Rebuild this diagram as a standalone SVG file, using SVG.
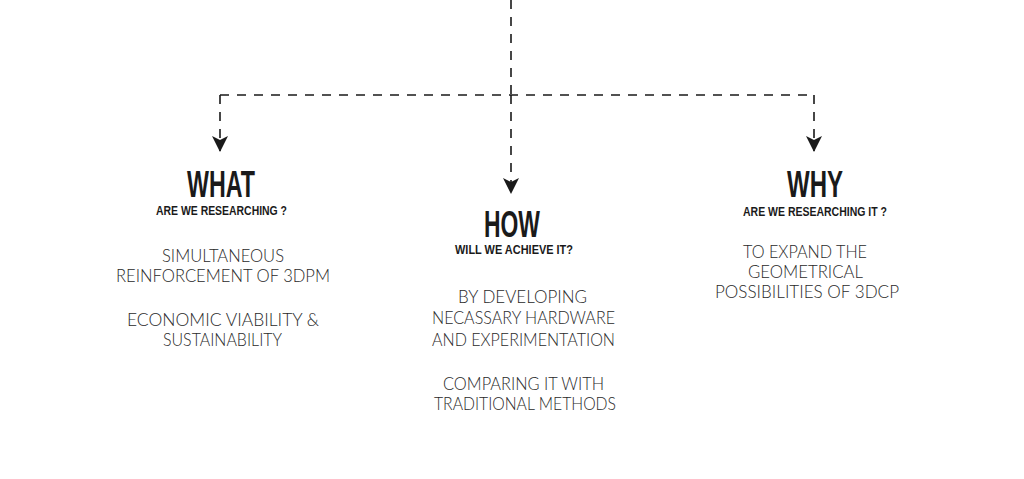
<svg xmlns="http://www.w3.org/2000/svg" width="1024" height="479" viewBox="0 0 1024 479">
<style>
.conn{fill:none;stroke:#1a1a1a;stroke-width:1.6;stroke-dasharray:9 8}
.h{font-family:"Liberation Sans",Arial,sans-serif;font-weight:bold;fill:#1a1a1a}
.t{font-size:36px}
.s{font-size:13.5px}
.b{font-family:Lato,"Liberation Sans",sans-serif;font-weight:300;font-size:18.5px;fill:#2a2a2a}
</style>
<defs>
<marker id="arr" viewBox="0 0 16 16" refX="15" refY="8" markerWidth="16" markerHeight="16" markerUnits="userSpaceOnUse" orient="auto">
<path d="M0,0 L16,8 L0,16 L4,8 Z" fill="#1a1a1a"/>
</marker>
</defs>
<rect width="1024" height="479" fill="#ffffff"/>
<g id="connectors">
<path class="conn" d="M511,0 V95"/>
<path class="conn" d="M220,95 H814"/>
<path class="conn" d="M220,95 V151" marker-end="url(#arr)"/>
<path class="conn" d="M511,95 V193" marker-end="url(#arr)"/>
<path class="conn" d="M814,95 V151" marker-end="url(#arr)"/>
</g>
<g id="what">
<text class="h t" x="187" y="197" textLength="68" lengthAdjust="spacingAndGlyphs">WHAT</text>
<text class="h s" x="156" y="215" textLength="131" lengthAdjust="spacingAndGlyphs">ARE WE RESEARCHING ?</text>
<text class="b" x="162" y="262" textLength="122" lengthAdjust="spacingAndGlyphs">SIMULTANEOUS</text>
<text class="b" x="116" y="282" textLength="214" lengthAdjust="spacingAndGlyphs">REINFORCEMENT OF 3DPM</text>
<text class="b" x="127" y="326" textLength="192" lengthAdjust="spacingAndGlyphs">ECONOMIC VIABILITY &amp;</text>
<text class="b" x="163" y="346" textLength="119" lengthAdjust="spacingAndGlyphs">SUSTAINABILITY</text>
</g>
<g id="how">
<text class="h t" x="484" y="237" textLength="56" lengthAdjust="spacingAndGlyphs">HOW</text>
<text class="h s" x="455" y="254" textLength="118" lengthAdjust="spacingAndGlyphs">WILL WE ACHIEVE IT?</text>
<text class="b" x="458" y="303" textLength="129" lengthAdjust="spacingAndGlyphs">BY DEVELOPING</text>
<text class="b" x="432" y="324" textLength="183" lengthAdjust="spacingAndGlyphs">NECASSARY HARDWARE</text>
<text class="b" x="432" y="346" textLength="183" lengthAdjust="spacingAndGlyphs">AND EXPERIMENTATION</text>
<text class="b" x="443" y="390" textLength="161" lengthAdjust="spacingAndGlyphs">COMPARING IT WITH</text>
<text class="b" x="434" y="410" textLength="182" lengthAdjust="spacingAndGlyphs">TRADITIONAL METHODS</text>
</g>
<g id="why">
<text class="h t" x="787" y="197" textLength="56" lengthAdjust="spacingAndGlyphs">WHY</text>
<text class="h s" x="743" y="216" textLength="144" lengthAdjust="spacingAndGlyphs">ARE WE RESEARCHING IT ?</text>
<text class="b" x="743" y="258" textLength="124" lengthAdjust="spacingAndGlyphs">TO EXPAND THE</text>
<text class="b" x="748" y="278" textLength="115" lengthAdjust="spacingAndGlyphs">GEOMETRICAL</text>
<text class="b" x="715" y="298" textLength="184" lengthAdjust="spacingAndGlyphs">POSSIBILITIES OF 3DCP</text>
</g>
</svg>
